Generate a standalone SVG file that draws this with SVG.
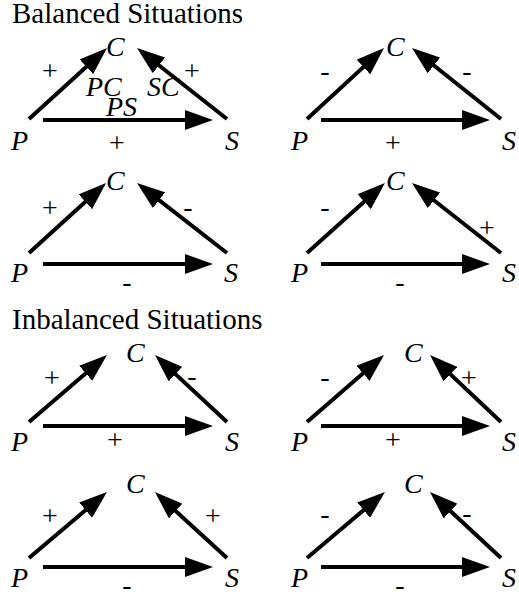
<svg xmlns="http://www.w3.org/2000/svg" width="519" height="594" viewBox="0 0 519 594">
<style>
.t{font-family:"Liberation Serif","Times New Roman",serif;font-size:29px;fill:#000}
.n{font-family:"Liberation Serif","Times New Roman",serif;font-size:28px;font-style:italic;fill:#000}
.l{font-family:"Liberation Serif","Times New Roman",serif;font-size:28px;fill:#000;text-anchor:middle}
.e{stroke:#000;stroke-width:4;fill:none;marker-end:url(#ah)}
</style>
<defs>
<marker id="ah" markerUnits="userSpaceOnUse" markerWidth="28" markerHeight="20" refX="22" refY="10" orient="auto" viewBox="0 0 28 20">
<path d="M0,0 L28,10 L0,20 Z" fill="#000"/>
</marker>
</defs>
<rect width="519" height="594" fill="#fff"/>
<text class="t" x="12" y="23">Balanced Situations</text>
<text class="t" x="12" y="329">Inbalanced Situations</text>

<!-- Panel 1 -->
<g id="b1">
<g id="b1-C"><text class="n" x="106" y="56">C</text></g>
<g id="b1-P"><text class="n" x="11" y="150">P</text></g>
<g id="b1-S"><text class="n" x="225" y="150">S</text></g>
<g id="b1-edges">
<line class="e" x1="29" y1="119" x2="102.6" y2="52"/>
<line class="e" x1="227" y1="119" x2="141.7" y2="51.7"/>
<line class="e" x1="43" y1="120" x2="207" y2="120"/>
<text class="l" x="50" y="80">+</text>
<text class="l" x="192" y="80">+</text>
<text class="l" x="117" y="152">+</text>
<text class="n" x="86" y="96">PC</text>
<text class="n" x="147" y="96">SC</text>
<text class="n" x="106" y="116">PS</text>
</g>
</g>

<!-- Panel 2 -->
<g id="b2">
<g id="b2-C"><text class="n" x="386" y="56">C</text></g>
<g id="b2-P"><text class="n" x="291" y="150">P</text></g>
<g id="b2-S"><text class="n" x="502" y="150">S</text></g>
<g id="b2-edges">
<line class="e" x1="307" y1="119" x2="379.6" y2="52.1"/>
<line class="e" x1="501" y1="119" x2="416.7" y2="51.7"/>
<line class="e" x1="321" y1="120" x2="484" y2="120"/>
<text class="l" x="325" y="80">-</text>
<text class="l" x="467" y="80">-</text>
<text class="l" x="393" y="152">+</text>
</g>
</g>

<!-- Panel 3 -->
<g id="b3">
<g id="b3-C"><text class="n" x="106" y="190">C</text></g>
<g id="b3-P"><text class="n" x="11" y="282">P</text></g>
<g id="b3-S"><text class="n" x="224" y="282">S</text></g>
<g id="b3-edges">
<line class="e" x1="29" y1="253" x2="101.6" y2="187"/>
<line class="e" x1="227" y1="253" x2="141.7" y2="186.7"/>
<line class="e" x1="43" y1="264" x2="207" y2="264"/>
<text class="l" x="50" y="217">+</text>
<text class="l" x="188" y="216">-</text>
<text class="l" x="127" y="291">-</text>
</g>
</g>

<!-- Panel 4 -->
<g id="b4">
<g id="b4-C"><text class="n" x="386" y="190">C</text></g>
<g id="b4-P"><text class="n" x="291" y="282">P</text></g>
<g id="b4-S"><text class="n" x="502" y="282">S</text></g>
<g id="b4-edges">
<line class="e" x1="307" y1="253" x2="380.5" y2="187"/>
<line class="e" x1="501" y1="253" x2="416.7" y2="186.7"/>
<line class="e" x1="321" y1="264" x2="484" y2="264"/>
<text class="l" x="325" y="216">-</text>
<text class="l" x="487" y="237">+</text>
<text class="l" x="400" y="291">-</text>
</g>
</g>

<!-- Panel 5 -->
<g id="i1">
<g id="i1-C"><text class="n" x="126" y="362">C</text></g>
<g id="i1-P"><text class="n" x="11" y="451">P</text></g>
<g id="i1-S"><text class="n" x="225" y="451">S</text></g>
<g id="i1-edges">
<line class="e" x1="29" y1="422" x2="102.4" y2="358.9"/>
<line class="e" x1="227" y1="422" x2="159.4" y2="359.1"/>
<line class="e" x1="43" y1="426" x2="207" y2="426"/>
<text class="l" x="52" y="387">+</text>
<text class="l" x="192" y="385">-</text>
<text class="l" x="115" y="449">+</text>
</g>
</g>

<!-- Panel 6 -->
<g id="i2">
<g id="i2-C"><text class="n" x="404" y="362">C</text></g>
<g id="i2-P"><text class="n" x="291" y="451">P</text></g>
<g id="i2-S"><text class="n" x="502" y="451">S</text></g>
<g id="i2-edges">
<line class="e" x1="307" y1="422" x2="379.5" y2="358.9"/>
<line class="e" x1="501" y1="422" x2="434.4" y2="359.1"/>
<line class="e" x1="321" y1="426" x2="484" y2="426"/>
<text class="l" x="325" y="386">-</text>
<text class="l" x="469" y="387">+</text>
<text class="l" x="393" y="449">+</text>
</g>
</g>

<!-- Panel 7 -->
<g id="i3">
<g id="i3-C"><text class="n" x="126" y="493">C</text></g>
<g id="i3-P"><text class="n" x="11" y="587">P</text></g>
<g id="i3-S"><text class="n" x="225" y="587">S</text></g>
<g id="i3-edges">
<line class="e" x1="29" y1="558" x2="102.4" y2="495.9"/>
<line class="e" x1="227" y1="558" x2="159.4" y2="496.1"/>
<line class="e" x1="43" y1="567" x2="207" y2="567"/>
<text class="l" x="50" y="525">+</text>
<text class="l" x="213" y="525">+</text>
<text class="l" x="127" y="594">-</text>
</g>
</g>

<!-- Panel 8 -->
<g id="i4">
<g id="i4-C"><text class="n" x="404" y="493">C</text></g>
<g id="i4-P"><text class="n" x="291" y="587">P</text></g>
<g id="i4-S"><text class="n" x="502" y="587">S</text></g>
<g id="i4-edges">
<line class="e" x1="307" y1="558" x2="380.4" y2="495.9"/>
<line class="e" x1="501" y1="558" x2="434.4" y2="496.1"/>
<line class="e" x1="321" y1="567" x2="484" y2="567"/>
<text class="l" x="325" y="523">-</text>
<text class="l" x="467" y="522">-</text>
<text class="l" x="400" y="594">-</text>
</g>
</g>
</svg>
